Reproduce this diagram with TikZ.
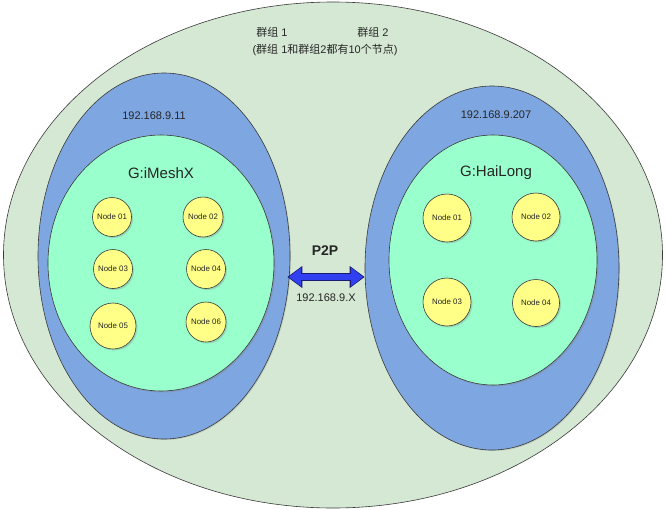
\documentclass[tikz,border=0pt]{standalone}
\usepackage{fontspec}
\setmainfont{Liberation Sans}
\newfontfamily\cjk{Noto Sans CJK SC}
\usetikzlibrary{shapes.geometric,shadows,arrows.meta}
\definecolor{lanbg}{HTML}{D5E8D4}
\definecolor{hostblue}{HTML}{7EA6E0}
\definecolor{groupmint}{HTML}{99FFCC}
\definecolor{peeryellow}{HTML}{FFFF88}
\definecolor{arrowblue}{HTML}{3040F0}
\definecolor{arrowrim}{HTML}{1A1A70}
\definecolor{rimgray}{HTML}{3A3A3A}
\definecolor{textgray}{HTML}{262626}
\newcommand{\zh}[1]{{\cjk #1}}
\newcommand{\peerlab}[1]{\fontsize{7.9}{9}\selectfont #1}
\newcommand{\hostlab}[1]{\fontsize{11}{13}\selectfont #1}
\newcommand{\grplab}[1]{\fontsize{15}{18}\selectfont #1}

\begin{document}
\begin{tikzpicture}[x=1pt,y=-1pt,
                    every node/.style={text=textgray},
                    lan/.style={ellipse,draw=rimgray,line width=0.6pt,fill=lanbg,inner sep=0pt},
                    host/.style={ellipse,draw=rimgray,line width=0.6pt,fill=hostblue,inner sep=0pt,
                                 drop shadow={shadow xshift=1pt,shadow yshift=-1pt,opacity=0.25}},
                    grp/.style={ellipse,draw=rimgray,line width=0.6pt,fill=groupmint,inner sep=0pt,
                                drop shadow={shadow xshift=1.5pt,shadow yshift=-1.5pt,opacity=0.3}},
                    peer/.style={circle,draw=rimgray,line width=0.6pt,fill=peeryellow,inner sep=0pt,
                                 minimum size=#1,
                                 drop shadow={shadow xshift=1.5pt,shadow yshift=-1.5pt,opacity=0.3}},
                    p2prim/.style={line width=8pt,draw=arrowrim,
                                   {Triangle[length=15pt,width=21pt]}-{Triangle[length=15pt,width=21pt]}},
                    p2pfill/.style={line width=6pt,draw=arrowblue,shorten <=1.5pt,shorten >=1.5pt,
                                    {Triangle[length=12.4pt,width=18pt]}-{Triangle[length=12.4pt,width=18pt]}},
                   ]
 \useasboundingbox (0,0) rectangle (666,509);

 % whole network
 \draw (333,255) node[lan,minimum width=659pt,minimum height=506pt] (net) {};

 \draw (272,32) node (t1) {\hostlab{\zh{群组} 1}};
 \draw (373,32) node (t2) {\hostlab{\zh{群组} 2}};
 \draw (325,50) node (tinfo)
              {\hostlab{(\zh{群组} 1\zh{和群组}2\zh{都有}10\zh{个节点})}};

 % left host
 \draw (164,256) node[host,minimum width=252pt,minimum height=366pt] (bl) {};
 \draw (161,263) node[grp,minimum width=226pt,minimum height=256pt] (gl) {};
 \draw (154,116) node (ipl) {\hostlab{192.168.9.11}};
 \draw (161,173) node (namel) {\grplab{G:iMeshX}};

 \draw (112,217) node[peer=39pt] (l1) {\peerlab{Node 01}};
 \draw (203,217) node[peer=40pt] (l2) {\peerlab{Node 02}};
 \draw (113,269) node[peer=39pt] (l3) {\peerlab{Node 03}};
 \draw (206,269) node[peer=39pt] (l4) {\peerlab{Node 04}};
 \draw (113,326) node[peer=46pt] (l5) {\peerlab{Node 05}};
 \draw (206,322) node[peer=40pt] (l6) {\peerlab{Node 06}};

 % right host
 \draw (492,268) node[host,minimum width=254pt,minimum height=364pt] (br) {};
 \draw (493,260) node[grp,minimum width=208pt,minimum height=250pt] (gr) {};
 \draw (496,115) node (ipr) {\hostlab{192.168.9.207}};
 \draw (496,173) node (namer) {\grplab{G:HaiLong}};

 \draw (447,218) node[peer=48pt] (r1) {\peerlab{Node 01}};
 \draw (536,217) node[peer=48pt] (r2) {\peerlab{Node 02}};
 \draw (447,302) node[peer=48pt] (r3) {\peerlab{Node 03}};
 \draw (536,303) node[peer=47pt] (r4) {\peerlab{Node 04}};

 % link between the hosts
 \coordinate (lk) at (326,277);
 \draw[p2prim]  ([xshift=-3pt]bl.east |- lk) -- (br.west |- lk);
 \draw[p2pfill] ([xshift=-3pt]bl.east |- lk) -- (br.west |- lk);
 \draw (325,251) node (p2p) {\fontsize{14}{16}\selectfont\bfseries P2P};
 \draw (326,298) node (ipx) {\hostlab{192.168.9.X}};

\end{tikzpicture}
\end{document}
